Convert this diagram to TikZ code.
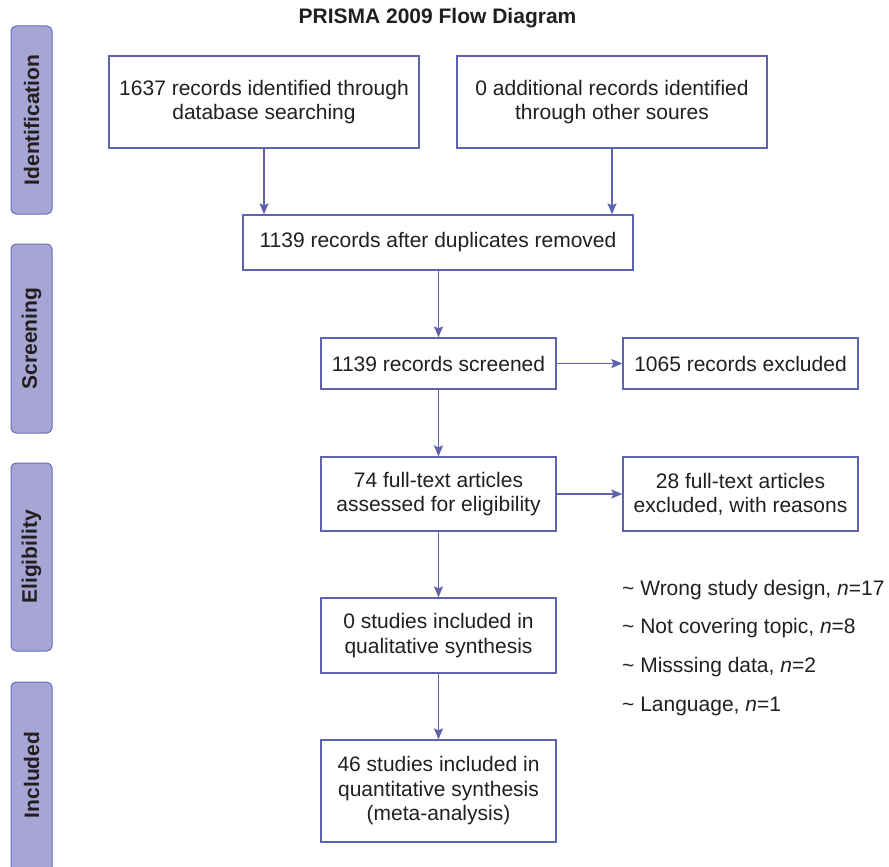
\documentclass[tikz,border=0pt]{standalone}
\usepackage{fontspec}
\setmainfont{Liberation Sans}
\usetikzlibrary{arrows.meta}
\definecolor{boxline}{HTML}{5F63AE}
\definecolor{tabfill}{HTML}{A6A5D3}
\definecolor{tabline}{HTML}{6A6DB5}
\definecolor{txt}{HTML}{231F20}
\begin{document}
\begin{tikzpicture}[x=1pt,y=-1pt,
  font=\fontsize{21}{24.5}\selectfont, text=txt,
  box/.style={draw=boxline, line width=1.3pt, fill=white, align=center, inner sep=0pt},
  tabbox/.style={draw=tabline, fill=tabfill, line width=1pt, rounded corners=5pt, inner sep=0pt},
  tablabel/.style={rotate=90, font=\fontsize{21}{24.5}\selectfont\bfseries},
  arr/.style={draw=boxline, line width=1.3pt, -{Stealth[length=11pt,width=9pt,inset=2pt]}},
  reason/.style={anchor=base west, inner sep=0pt}
]
\useasboundingbox (0,0) rectangle (889,867);
\fill[white] (0,0) rectangle (889,867);

% title
\node[font=\fontsize{21}{24.5}\selectfont\bfseries, anchor=base, inner sep=0pt] (title) at (437.5,24) {PRISMA 2009 Flow Diagram};

% phase tabs
\node[tabbox, rotate=90, minimum width=188pt, minimum height=41pt] (tid) at (31.5,120) {};
\node[tablabel] (lid) at (tid) {Identification};
\node[tabbox, rotate=90, minimum width=189pt, minimum height=41pt] (tsc) at (31.5,338.5) {};
\node[tablabel] (lsc) at (tsc) {Screening};
\node[tabbox, rotate=90, minimum width=188pt, minimum height=41pt] (tel) at (31.5,557) {};
\node[tablabel] (lel) at (tel) {Eligibility};
\node[tabbox, rotate=90, minimum width=218pt, minimum height=41pt] (tin) at (31.5,791) {};
\node[tablabel] (lin) at (31.5,775) {Included};

% boxes
\node[box, minimum width=310pt, minimum height=92pt] (b1) at (264,102) {1637 records identified through\\database searching};
\node[box, minimum width=310pt, minimum height=92pt] (b2) at (612,102) {0 additional records identified\\through other soures};
\node[box, minimum width=390pt, minimum height=55pt] (b3) at (438,242.5) {1139 records after duplicates removed};
\node[box, minimum width=235pt, minimum height=51pt] (b4) at (438.5,363.5) {1139 records screened};
\node[box, minimum width=235pt, minimum height=51pt] (b5) at (740.5,363.5) {1065 records excluded};
\node[box, minimum width=235pt, minimum height=74pt] (b6) at (438.5,494) {74 full-text articles\\assessed for eligibility};
\node[box, minimum width=235pt, minimum height=74pt] (b7) at (740.5,494) {28 full-text articles\\excluded, with reasons};
\node[box, minimum width=235pt, minimum height=75pt] (b8) at (438.5,635.5) {0 studies included in\\qualitative synthesis};
\node[box, minimum width=235pt, minimum height=102pt] (b9) at (438.5,791) {46 studies included in\\quantitative synthesis\\(meta-analysis)};

% reasons
\node[reason] (r1) at (622,595) {\textasciitilde{} Wrong study design, \textit{n}=17};
\node[reason] (r2) at (622,633.5) {\textasciitilde{} Not covering topic, \textit{n}=8};
\node[reason] (r3) at (622,672) {\textasciitilde{} Misssing data, \textit{n}=2};
\node[reason] (r4) at (622,711) {\textasciitilde{} Language, \textit{n}=1};

% connectors
\draw[arr] (b1.south) -- (b1.south |- b3.north);
\draw[arr] (b2.south) -- (b2.south |- b3.north);
\draw[arr] (b3.south -| b4.north) -- (b4.north);
\draw[arr] (b4.east) -- (b5.west);
\draw[arr] (b4.south) -- (b6.north);
\draw[arr] (b6.east) -- (b7.west);
\draw[arr] (b6.south) -- (b8.north);
\draw[arr] (b8.south) -- (b9.north);
\end{tikzpicture}
\end{document}
